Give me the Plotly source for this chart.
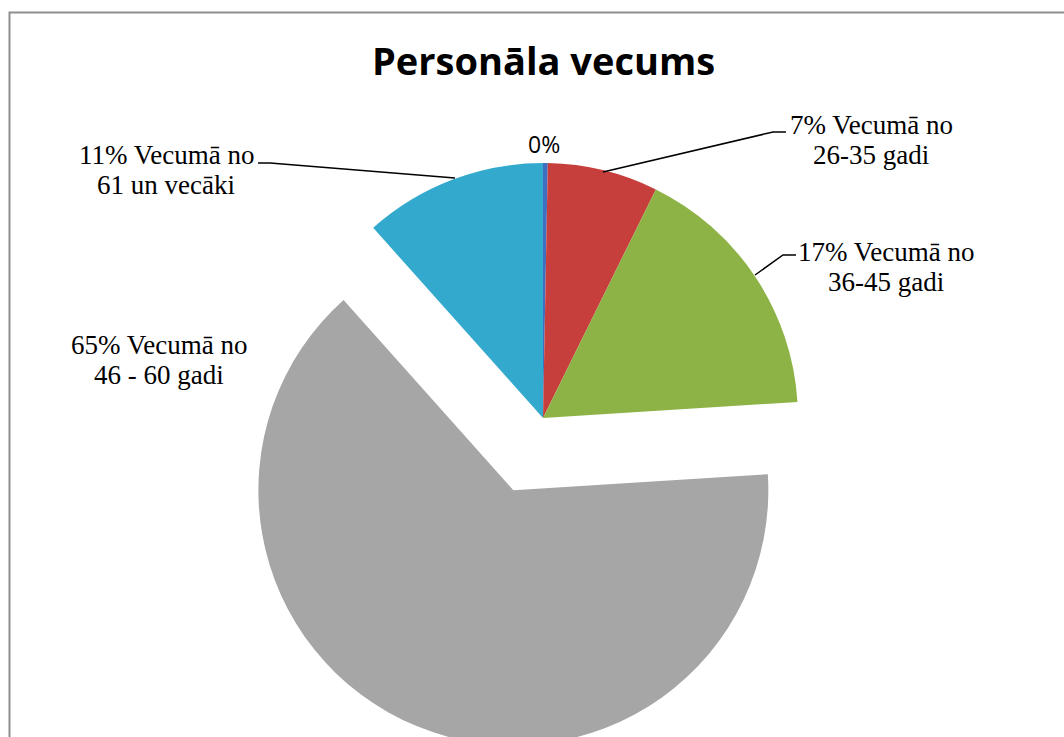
import plotly.graph_objects as go

W, H = 1064, 770

labels = ["Vecumā līdz 25 gadi", "Vecumā no 26-35 gadi", "Vecumā no 36-45 gadi",
          "Vecumā no 46 - 60 gadi", "Vecumā no 61 un vecāki"]
shares = [0.3, 7.0, 16.7, 64.4, 11.6]
colors = ["#3F6FC0", "#C73F3C", "#8DB346", "#A6A6A6", "#33A9CD"]
pulls = [0, 0, 0, 0.306, 0]

label_lines = [
    ["0%"],
    ["7% Vecumā no", "26-35 gadi"],
    ["17% Vecumā no", "36-45 gadi"],
    ["65% Vecumā no", "46 - 60 gadi"],
    ["11% Vecumā no", "61 un vecāki"],
]


def px(x, y):
    return x / W, 1 - y / H


fig = go.Figure(go.Pie(
    labels=labels,
    values=shares,
    sort=False,
    direction="clockwise",
    rotation=0,
    pull=pulls,
    marker=dict(colors=colors, line=dict(width=0)),
    textinfo="none",
    hoverinfo="label+percent",
    domain=dict(x=[210 / W, 876 / W], y=[1 - 751 / H, 1 - 85 / H]),
))

# label positions (pixels, first line centre) - layout only
label_pos = [(544, 144), (871, 125), (886, 252), (159, 345), (166, 155)]
line_gap = 30
serif = dict(family="Liberation Serif, Times New Roman, serif", size=27, color="#000000")
sans = dict(family="Open Sans, Arial, sans-serif", size=23, color="#000000")

annotations = []
for i, (lines, (x, y)) in enumerate(zip(label_lines, label_pos)):
    for k, line in enumerate(lines):
        fx, fy = px(x, y + k * line_gap)
        annotations.append(dict(text=line, x=fx, y=fy, xref="paper", yref="paper",
                                xanchor="center", yanchor="middle", showarrow=False,
                                font=sans if i == 0 else serif))

tx, ty = px(543, 60)
annotations.append(dict(text="<b>Personāla vecums</b>", x=tx, y=ty, xref="paper", yref="paper",
                        xanchor="center", yanchor="middle", showarrow=False,
                        font=dict(family="Open Sans, Arial, sans-serif", size=38, color="#000000")))

leaders = [
    [(603, 172), (773, 132), (786, 132)],
    [(755, 275), (783, 255), (796, 255)],
    [(258, 163), (270, 163), (455, 178)],
]
shapes = []
for pts in leaders:
    path = ""
    for j, (x, y) in enumerate(pts):
        fx, fy = px(x, y)
        path += ("M" if j == 0 else " L") + f" {fx:.5f},{fy:.5f}"
    shapes.append(dict(type="path", path=path, xref="paper", yref="paper",
                       line=dict(color="#000000", width=1.5)))

fx0, fy1 = px(9.5, 12.5)
shapes.append(dict(type="rect", xref="paper", yref="paper", x0=fx0, x1=1.05, y0=-0.2, y1=fy1,
                   line=dict(color="#8E8E8E", width=2), fillcolor="rgba(0,0,0,0)"))

fig.update_layout(
    width=W, height=H,
    margin=dict(l=0, r=0, t=0, b=0),
    paper_bgcolor="white",
    plot_bgcolor="white",
    showlegend=False,
    annotations=annotations,
    shapes=shapes,
)

fig.write_html("out.html", config={"displayModeBar": False},
               post_script="document.body.style.margin='0';document.body.style.overflow='hidden';")
